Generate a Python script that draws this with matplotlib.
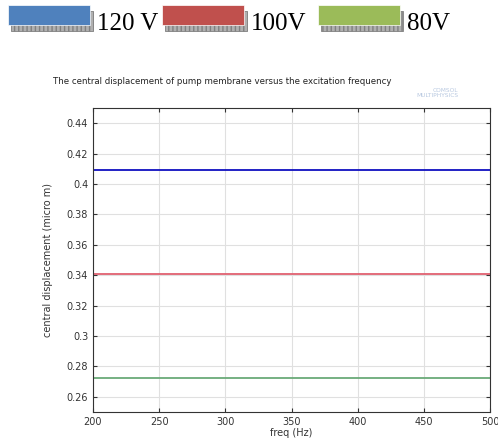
import matplotlib
matplotlib.use("Agg")
import matplotlib.pyplot as plt
from matplotlib.patches import Rectangle
from matplotlib.ticker import FuncFormatter

freq = [200, 500]
series_labels = ["120 V", "100V", "80V"]
displacement = [0.409, 0.341, 0.2725]
line_colors = ["#1010c0", "#e06070", "#6aaa78"]
legend_colors = ["#4f81bd", "#c0504d", "#9bbb59"]

fig = plt.figure(figsize=(4.98, 4.4), dpi=100)
ax = fig.add_axes([93 / 498, 28 / 440, 397 / 498, 304 / 440])

for val, col in zip(displacement, line_colors):
    ax.plot(freq, [val, val], color=col, lw=1.3)

ax.set_xlim(200, 500)
ax.set_ylim(0.25, 0.45)
ax.set_xticks([200, 250, 300, 350, 400, 450, 500])
ax.set_yticks([0.26, 0.28, 0.30, 0.32, 0.34, 0.36, 0.38, 0.40, 0.42, 0.44])
ax.yaxis.set_major_formatter(FuncFormatter(lambda v, p: f"{v:.2f}".rstrip("0")))
ax.grid(color="#e0e0e0", lw=0.8)
ax.tick_params(direction="in", length=3, labelsize=7, color="#333333",
               top=True, right=True, labelcolor="#333333")
for s in ax.spines.values():
    s.set_color("#333333")
ax.set_xlabel("freq (Hz)", fontsize=7, labelpad=1, color="#333333")
ax.set_ylabel("central displacement (micro m)", fontsize=7, color="#333333",
              labelpad=10)

fig.text(53 / 498, 1 - 82 / 440,
         "The central displacement of pump membrane versus the excitation frequency",
         fontsize=6.2, va="center", color="#222222")
fig.text(458 / 498, 1 - 93 / 440, "COMSOL\nMULTIPHYSICS", fontsize=4.2,
         ha="right", va="center", color="#b8c8e0", linespacing=1.0)

# legend strip at top
box_x = [8, 162, 318]
for x0, lab, col in zip(box_x, series_labels, legend_colors):
    fig.patches.append(Rectangle(((x0 + 3) / 498, 1 - 31 / 440), 82 / 498, 20 / 440,
                                 transform=fig.transFigure, facecolor="#b0b0b0",
                                 edgecolor="#808080", lw=0.6, hatch="||||"))
    fig.patches.append(Rectangle((x0 / 498, 1 - 25 / 440), 82 / 498, 20 / 440,
                                 transform=fig.transFigure, facecolor=col,
                                 edgecolor="white", lw=0.5))
    fig.text((x0 + 89) / 498, 1 - 30 / 440, lab, fontsize=18,
             family="Liberation Serif", va="baseline", ha="left")

fig.savefig("out.png", dpi=100)
